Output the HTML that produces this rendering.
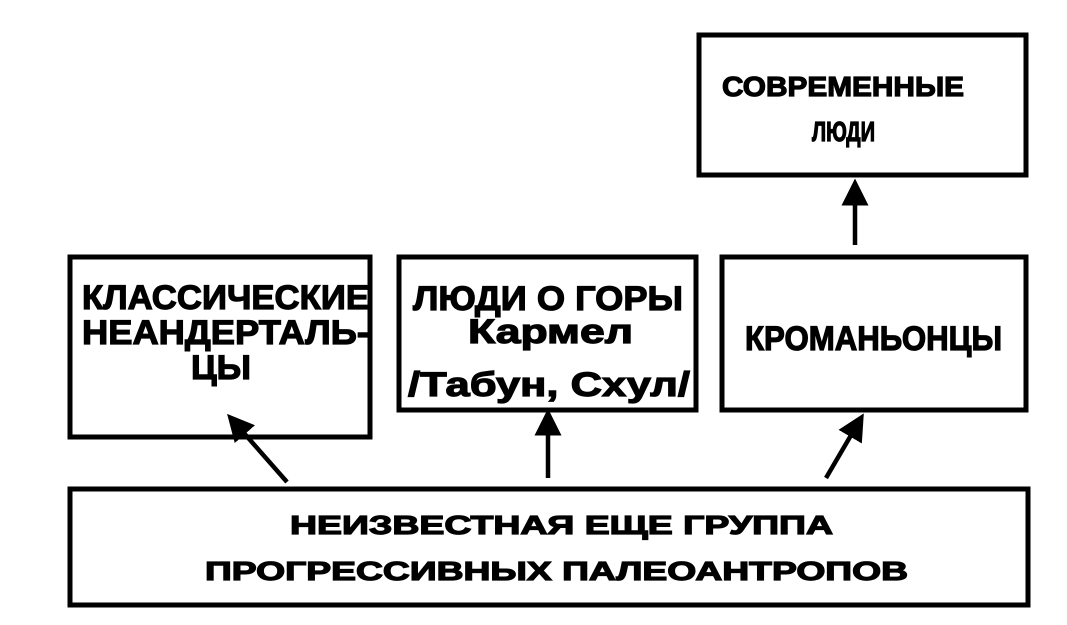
<!DOCTYPE html>
<html><head><meta charset="utf-8"><style>body{margin:0;background:#fff}svg{display:block}</style></head>
<body>
<svg width="1067" height="625" viewBox="0 0 1067 625" xmlns="http://www.w3.org/2000/svg">
<defs><marker id="a" markerWidth="6" markerHeight="6" refX="3" refY="3" orient="auto" markerUnits="strokeWidth"><path d="M0,0 L6,3 L0,6 z" fill="#000"/></marker></defs>
<g fill="none" stroke="#000" stroke-width="5">
<rect x="699" y="35" width="327" height="140"/>
<rect x="70" y="257" width="300" height="180"/>
<rect x="399" y="257" width="297" height="153"/>
<rect x="722" y="257" width="304" height="153"/>
<rect x="70" y="489" width="958" height="116"/>
</g>
<g stroke="#000" stroke-width="4.5" fill="none">
<line x1="287" y1="482" x2="236" y2="424" marker-end="url(#a)"/>
<line x1="548" y1="478" x2="548" y2="422" marker-end="url(#a)"/>
<line x1="826" y1="478" x2="857" y2="425" marker-end="url(#a)"/>
<line x1="855" y1="245" x2="855" y2="192" marker-end="url(#a)"/>
</g>
<g font-family="Liberation Sans, DejaVu Sans, sans-serif" font-weight="bold" font-size="34" fill="#000" stroke="#000" stroke-width="1.2">
<text x="82" y="309" textLength="287" lengthAdjust="spacingAndGlyphs">КЛАССИЧЕСКИЕ</text>
<text x="82" y="344" textLength="287" lengthAdjust="spacingAndGlyphs">НЕАНДЕРТАЛЬ-</text>
<text x="191" y="379" textLength="60" lengthAdjust="spacingAndGlyphs">ЦЫ</text>
<text x="413" y="310" textLength="270" lengthAdjust="spacingAndGlyphs">ЛЮДИ О ГОРЫ</text>
<text x="468" y="343" textLength="165" lengthAdjust="spacingAndGlyphs">Кармел</text>
<text x="408" y="396" textLength="282" lengthAdjust="spacingAndGlyphs">/Табун, Схул/</text>
<text x="745" y="350" textLength="257" lengthAdjust="spacingAndGlyphs">КРОМАНЬОНЦЫ</text>
<text x="722" y="96" font-size="28" textLength="242" lengthAdjust="spacingAndGlyphs">СОВРЕМЕННЫЕ</text>
<text x="812" y="141" font-size="28" textLength="63" lengthAdjust="spacingAndGlyphs">ЛЮДИ</text>
<text x="290" y="534" font-size="26" textLength="543" lengthAdjust="spacingAndGlyphs">НЕИЗВЕСТНАЯ ЕЩЕ ГРУППА</text>
<text x="205" y="580" font-size="26" textLength="703" lengthAdjust="spacingAndGlyphs">ПРОГРЕССИВНЫХ ПАЛЕОАНТРОПОВ</text>
</g>
</svg>
</body></html>
